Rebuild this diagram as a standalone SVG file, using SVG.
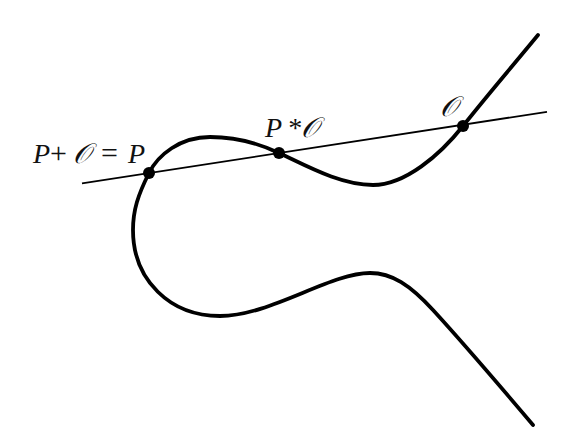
<svg xmlns="http://www.w3.org/2000/svg" width="580" height="431" viewBox="0 0 580 431">
<style>
.curve{fill:none;stroke:#000;stroke-width:3.8;stroke-linecap:round;stroke-linejoin:round}
.line{fill:none;stroke:#000;stroke-width:1.8}
.dot{fill:#000}
.lbl{font-family:"Liberation Serif","DejaVu Serif",serif;font-style:italic;font-size:28px;fill:#111}
.op{font-style:normal;font-size:30px}
</style>
<rect width="580" height="431" fill="#fff"/>
<g id="connectors">
<path id="secant" class="line" d="M82,183.3 L547,111.8"/>
<path id="curve" class="curve" d="M538,35 C515,63 485,98 463,126 C440,155 405,185 373,185 C340,185 305,165 279,153 C258,143 235,137 210,137 C180,137 158,155 149,173 C138,195 133,210 133,230 C133,280 170,316 220,316 C270,316 330,273 370,273 C392,273 410,285 433,310 C466,346 500,386 533,425"/>
</g>
<g id="nodeP">
<circle class="dot" cx="149" cy="173" r="6"/>
<text class="lbl" y="163"><tspan x="33">P</tspan><tspan class="op" x="50">+</tspan><tspan x="73">𝒪</tspan><tspan class="op" x="101">=</tspan><tspan x="128">P</tspan></text>
</g>
<g id="nodePO">
<circle class="dot" cx="279" cy="153" r="6"/>
<text class="lbl" y="137"><tspan x="265">P</tspan><tspan x="287">*</tspan><tspan x="301">𝒪</tspan></text>
</g>
<g id="nodeO">
<circle class="dot" cx="463" cy="126" r="6"/>
<text class="lbl" x="440" y="116">𝒪</text>
</g>
</svg>
